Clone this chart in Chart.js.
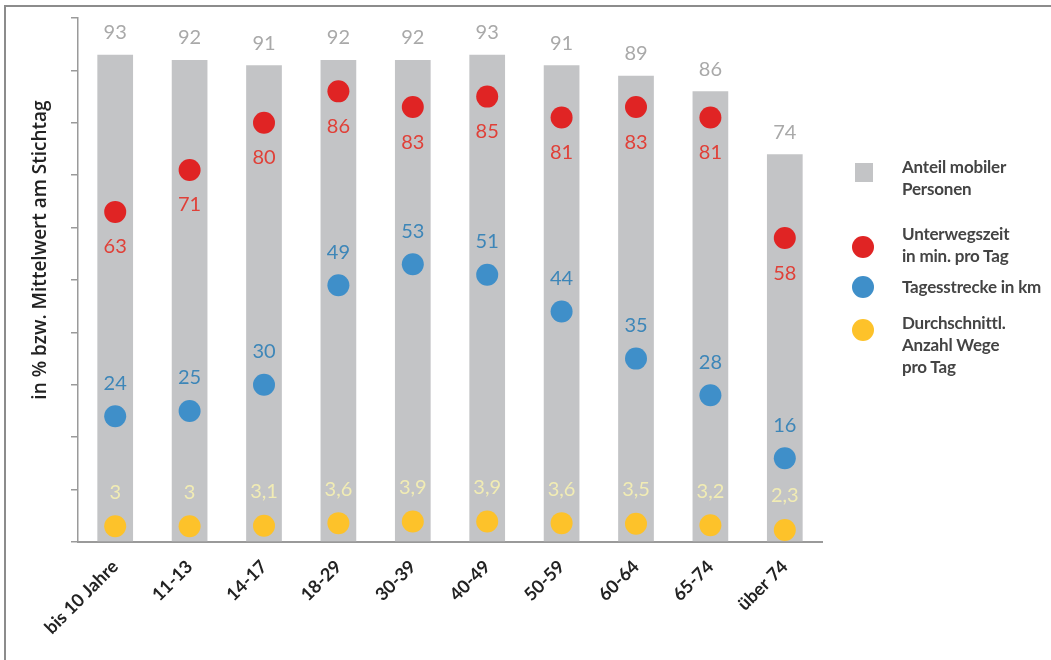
<!DOCTYPE html>
<html lang="de">
<head>
<meta charset="utf-8">
<title>Mobilität nach Altersgruppen</title>
<script src="https://cdn.jsdelivr.net/npm/chart.js@4.4.1/dist/chart.umd.min.js"></script>
<style>
  body { margin: 0; background: #fff; }
  #wrap { position: relative; width: 1051px; height: 660px; overflow: hidden; }
  #frame {
    position: absolute; left: 4px; top: 5px; right: 0; bottom: 0;
    border-top: 2px solid #8c8c8c; border-left: 2px solid #8c8c8c;
  }
  #legend {
    position: absolute; left: 850px; top: 150px;
    font-family: Lato, sans-serif; font-weight: bold; font-size: 17px;
    color: #444; line-height: 22px; letter-spacing: -0.2px;
  }
  .item { position: relative; padding-left: 52px; }
  .sym { position: absolute; left: 0; }
  .sq { left: 5px; width: 18px; height: 19px; background: #c3c4c6; }
  .dot { left: 2px; width: 22px; height: 22px; border-radius: 50%; }
</style>
</head>
<body>
<div id="wrap">
  <canvas id="myChart" width="1051" height="660"></canvas>
  <div id="frame"></div>
  <div id="legend">
    <div class="item" style="top:6px"><span class="sym sq" style="top:7px"></span>Anteil mobiler<br>Personen</div>
    <div class="item" style="top:29px"><span class="sym dot" style="top:13px;background:#e02424"></span>Unterwegszeit<br>in min. pro Tag</div>
    <div class="item" style="top:38px"><span class="sym dot" style="top:0;background:#3f8fc9"></span>Tagesstrecke in km</div>
    <div class="item" style="top:52px"><span class="sym dot" style="top:7px;background:#fdc22a"></span>Durchschnittl.<br>Anzahl Wege<br>pro Tag</div>
  </div>
</div>
<script>
var altersgruppen = ['bis 10 Jahre', '11-13', '14-17', '18-29', '30-39', '40-49', '50-59', '60-64', '65-74', 'über 74'];
var anteilMobil = [93, 92, 91, 92, 92, 93, 91, 89, 86, 74];
var unterwegszeit = [63, 71, 80, 86, 83, 85, 81, 83, 81, 58];
var tagesstrecke = [24, 25, 30, 49, 53, 51, 44, 35, 28, 16];
var anzahlWege = [3, 3, 3.1, 3.6, 3.9, 3.9, 3.6, 3.5, 3.2, 2.3];
var yTicks = [0, 10, 20, 30, 40, 50, 60, 70, 80, 90, 100];

Chart.defaults.font.family = 'Lato, sans-serif';

// writes each value next to its bar or point
var valueLabels = {
  id: 'valueLabels',
  afterDatasetsDraw: function(chart) {
    var ctx = chart.ctx;
    ctx.save();
    ctx.font = '20px Lato, sans-serif';
    ctx.textAlign = 'center';
    ctx.textBaseline = 'middle';
    chart.data.datasets.forEach(function(ds, i) {
      var meta = chart.getDatasetMeta(i);
      ctx.fillStyle = ds.labelColor;
      meta.data.forEach(function(el, j) {
        var txt = String(ds.data[j]).replace('.', ',');
        ctx.fillText(txt, el.x, el.y + ds.labelOffset);
      });
    });
    ctx.restore();
  }
};

// rotated axis title
var axisTitle = {
  id: 'axisTitle',
  afterDraw: function(chart) {
    var ctx = chart.ctx;
    ctx.save();
    ctx.translate(41, 250);
    ctx.rotate(-Math.PI / 2);
    ctx.font = '600 19px "Open Sans", sans-serif';
    ctx.fillStyle = '#222';
    ctx.textAlign = 'center';
    ctx.textBaseline = 'middle';
    ctx.fillText('in % bzw. Mittelwert am Stichtag', 0, 0);
    ctx.restore();
  }
};

var ctx = document.getElementById('myChart').getContext('2d');
var myChart = new Chart(ctx, {
  type: 'bar',
  data: {
    labels: altersgruppen,
    datasets: [{
      label: 'Anteil mobiler Personen',
      data: anteilMobil,
      backgroundColor: '#c3c4c6',
      barPercentage: 0.48,
      categoryPercentage: 1,
      order: 2,
      labelColor: '#a9a9a9',
      labelOffset: -22
    }, {
      type: 'line',
      label: 'Unterwegszeit in min. pro Tag',
      data: unterwegszeit,
      showLine: false,
      pointRadius: 11,
      pointBackgroundColor: '#e02424',
      pointBorderWidth: 0,
      order: 1,
      labelColor: '#e04038',
      labelOffset: 35
    }, {
      type: 'line',
      label: 'Tagesstrecke in km',
      data: tagesstrecke,
      showLine: false,
      pointRadius: 11,
      pointBackgroundColor: '#3f8fc9',
      pointBorderWidth: 0,
      order: 1,
      labelColor: '#3d86b8',
      labelOffset: -33
    }, {
      type: 'line',
      label: 'Durchschnittl. Anzahl Wege pro Tag',
      data: anzahlWege,
      showLine: false,
      pointRadius: 11,
      pointBackgroundColor: '#fdc22a',
      pointBorderWidth: 0,
      order: 1,
      labelColor: '#f1ecb4',
      labelOffset: -34
    }]
  },
  options: {
    responsive: false,
    animation: false,
    layout: { padding: { top: 18, right: 229, left: 0, bottom: 0 } },
    plugins: {
      legend: { display: false },
      tooltip: { enabled: false }
    },
    scales: {
      x: {
        grid: { display: false },
        border: { display: true, color: '#9a9a9a', width: 2 },
        ticks: {
          color: '#222',
          font: { size: 18, weight: 'bold' },
          minRotation: 45,
          maxRotation: 45,
          padding: 6
        },
        afterFit: function(scale) { scale.height = 118; }
      },
      y: {
        min: 0,
        max: 100,
        afterBuildTicks: function(scale) {
          scale.ticks = yTicks.map(function(v) { return { value: v }; });
        },
        grid: { drawOnChartArea: false, color: '#9a9a9a', tickLength: 7, lineWidth: 1.5 },
        border: { display: true, color: '#9a9a9a', width: 1.5 },
        ticks: { display: false },
        afterFit: function(scale) { scale.width = 78; }
      }
    }
  },
  plugins: [valueLabels, axisTitle]
});
</script>
</body>
</html>
